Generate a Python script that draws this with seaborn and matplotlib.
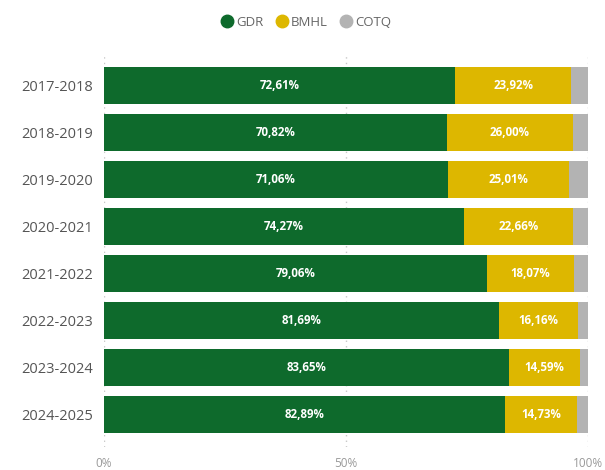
import pandas as pd
import seaborn as sns
import matplotlib.pyplot as plt
from matplotlib.lines import Line2D

years = ['2017-2018', '2018-2019', '2019-2020', '2020-2021',
         '2021-2022', '2022-2023', '2023-2024', '2024-2025']
gdr = [72.61, 70.82, 71.06, 74.27, 79.06, 81.69, 83.65, 82.89]
bmhl = [23.92, 26.00, 25.01, 22.66, 18.07, 16.16, 14.59, 14.73]
cotq = [3.47, 3.18, 3.93, 3.07, 2.87, 2.15, 1.76, 2.38]

colors = {'GDR': '#0E6A2C', 'BMHL': '#DDB700', 'COTQ': '#B3B3B3'}

df = pd.DataFrame({'year': years, 'GDR': gdr, 'BMHL': bmhl, 'COTQ': cotq})
df['c1'] = df['GDR']
df['c2'] = df['GDR'] + df['BMHL']
df['c3'] = df['c2'] + df['COTQ']

sns.set_style('white')
plt.rcParams['font.family'] = ['Open Sans', 'DejaVu Sans']

fig = plt.figure(figsize=(6.05, 4.7), dpi=100)
ax = fig.add_axes([0.172, 0.049, 0.8, 0.834])

# stacked bars: draw cumulative totals back to front
for col, name in [('c3', 'COTQ'), ('c2', 'BMHL'), ('c1', 'GDR')]:
    sns.barplot(data=df, x=col, y='year', color=colors[name], width=0.79,
                saturation=1, ax=ax, orient='h', linewidth=0)

for i, row in df.iterrows():
    ax.text(row['GDR'] / 2, i, '{:.2f}%'.format(row['GDR']).replace('.', ','),
            ha='center', va='center', color='white', fontsize=8.3, fontweight='bold')
    ax.text(row['GDR'] + row['BMHL'] / 2, i, '{:.2f}%'.format(row['BMHL']).replace('.', ','),
            ha='center', va='center', color='white', fontsize=8.3, fontweight='bold')

ax.set_xlim(0, 100)
ax.set_ylim(7.7, -0.66)
ax.set_xticks([0, 50, 100])
ax.set_xticklabels(['0%', '50%', '100%'])
for x in [0, 50, 100]:
    ax.axvline(x, color='#C8C8C8', linestyle=(0, (1, 3)), linewidth=1, zorder=0)
ax.tick_params(axis='x', length=0, pad=7, labelsize=8.5, labelcolor='#999999')
ax.tick_params(axis='y', length=0, pad=8, labelsize=10.5, labelcolor='#555555')
ax.set_xlabel('')
ax.set_ylabel('')
for s in ax.spines.values():
    s.set_visible(False)

handles = [Line2D([], [], marker='o', linestyle='', markersize=9, color=colors[n]) for n in ['GDR', 'BMHL', 'COTQ']]
fig.legend(handles, ['GDR', 'BMHL', 'COTQ'], loc='center', bbox_to_anchor=(0.5, 0.952),
           ncol=3, frameon=False, handletextpad=-0.3, columnspacing=0.4,
           prop={'size': 9.5}, labelcolor='#666666')

plt.savefig('out.png', dpi=100)
